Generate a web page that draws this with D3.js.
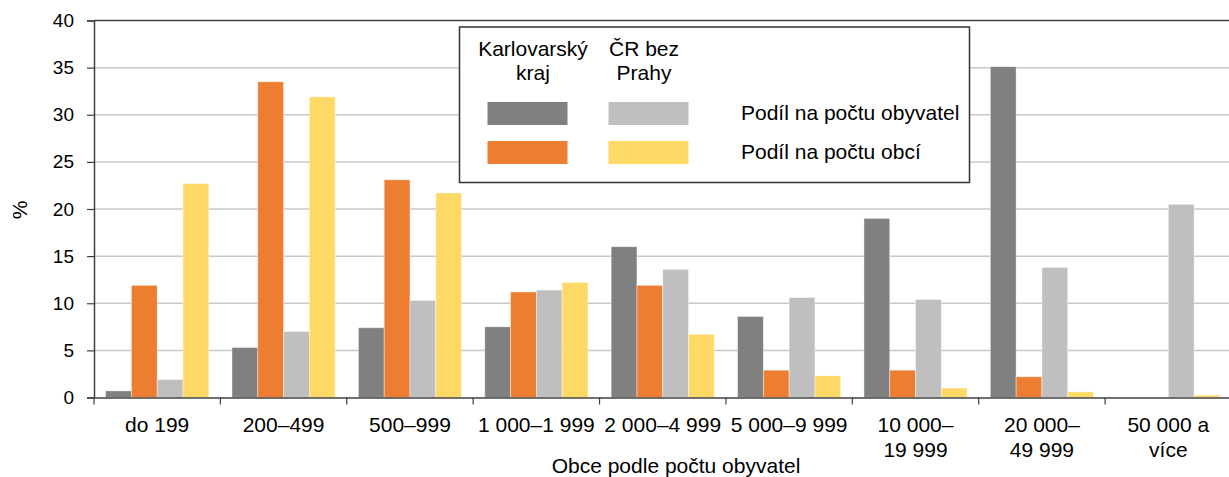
<!DOCTYPE html>
<html>
<head>
<meta charset="utf-8">
<script src="https://cdn.jsdelivr.net/npm/d3@7"></script>
<style>
  body { margin: 0; background: #fff; }
  text { font-family: "Liberation Sans", Arial, sans-serif; fill: #000; }
</style>
</head>
<body>
<svg id="chart" width="1229" height="477"></svg>
<script>
// kategorie obci podle velikosti
var categories = ["do 199", "200–499", "500–999", "1 000–1 999", "2 000–4 999",
                  "5 000–9 999", "10 000–\n19 999", "20 000–\n49 999", "50 000 a\nvíce"];

// hodnoty v %
var karlObyv = [0.7, 5.3, 7.4, 7.5, 16.0, 8.6, 19.0, 35.1, 0];
var karlObce = [11.9, 33.5, 23.1, 11.2, 11.9, 2.9, 2.9, 2.2, 0];
var crObyv   = [1.9, 7.0, 10.3, 11.4, 13.6, 10.6, 10.4, 13.8, 20.5];
var crObce   = [22.7, 31.9, 21.7, 12.2, 6.7, 2.3, 1.0, 0.6, 0.25];

var seriesKeys = ["karlObyv", "karlObce", "crObyv", "crObce"];
var colors = { karlObyv: "#808080", karlObce: "#ED7D31", crObyv: "#BFBFBF", crObce: "#FFD966" };
var yTicks = [0, 5, 10, 15, 20, 25, 30, 35, 40];

var svg = d3.select("#chart");

// pozor: "top" je v okne rezervovane, proto plot_*
var plot_left = 94, plot_right = 1231.5, plot_top = 20.5, plot_bottom = 397.5;
var font_size = "21px";

var x0 = d3.scaleBand().domain(categories).range([plot_left, plot_right]).paddingInner(0).paddingOuter(0);
var x1 = d3.scaleBand().domain(seriesKeys).range([0, x0.bandwidth()]).paddingInner(0).paddingOuter(0.45);
var y = d3.scaleLinear().domain([0, 40]).range([plot_bottom, plot_top]);

var rows = categories.map(function(c, i) {
    return { cat: c, karlObyv: karlObyv[i], karlObce: karlObce[i], crObyv: crObyv[i], crObce: crObce[i] };
});

// mrizka
svg.append("g")
    .selectAll("line")
    .data(yTicks.filter(function(d) { return d > 0 && d < 40; }))
    .enter().append("line")
    .attr("x1", plot_left).attr("x2", plot_right)
    .attr("y1", function(d) { return y(d); })
    .attr("y2", function(d) { return y(d); })
    .attr("stroke", "#c8c8c8")
    .attr("stroke-width", 1.5);

// horni okraj
svg.append("line")
    .attr("x1", plot_left).attr("x2", plot_right)
    .attr("y1", plot_top).attr("y2", plot_top)
    .attr("stroke", "#404040").attr("stroke-width", 1.5);

// sloupce
var groups = svg.append("g")
    .selectAll("g")
    .data(rows)
    .enter().append("g")
    .attr("transform", function(d) { return "translate(" + x0(d.cat) + ",0)"; });

groups.selectAll("rect")
    .data(function(d) { return seriesKeys.map(function(k) { return { key: k, value: d[k] }; }); })
    .enter().append("rect")
    .attr("x", function(d) { return x1(d.key); })
    .attr("width", x1.bandwidth())
    .attr("y", function(d) { return y(d.value); })
    .attr("height", function(d) { return y(0) - y(d.value); })
    .attr("fill", function(d) { return colors[d.key]; })
    .attr("stroke", "rgba(255,255,255,0.5)")
    .attr("stroke-width", 0.8);

// osa y
var yAxis = svg.append("g")
    .attr("transform", "translate(" + plot_left + ",0)")
    .call(d3.axisLeft(y).tickValues(yTicks).tickSize(7).tickPadding(13));
yAxis.select(".domain").attr("stroke", "#404040").attr("stroke-width", 1.5);
yAxis.selectAll(".tick line").attr("stroke", "#404040").attr("stroke-width", 1.2);
yAxis.selectAll(".tick text")
    .style("font-size", "19px")
    .style("font-family", "'Liberation Sans', Arial, sans-serif")
    .attr("fill", "#000");

// osa x
var xAxis = svg.append("g")
    .attr("transform", "translate(0," + plot_bottom + ")")
    .call(d3.axisBottom(x0).tickSize(0).tickFormat(""));
xAxis.select(".domain").attr("stroke", "#404040").attr("stroke-width", 1.5);

svg.append("g")
    .selectAll("line")
    .data(categories.map(function(c) { return x0(c); }).concat([plot_right]))
    .enter().append("line")
    .attr("x1", function(d) { return d; }).attr("x2", function(d) { return d; })
    .attr("y1", plot_bottom).attr("y2", plot_bottom + 7)
    .attr("stroke", "#404040").attr("stroke-width", 1.2);

var xLabels = svg.append("g")
    .selectAll("text")
    .data(categories)
    .enter().append("text")
    .attr("text-anchor", "middle")
    .attr("x", function(d) { return x0(d) + x0.bandwidth() / 2; })
    .attr("y", 432)
    .style("font-size", font_size);

xLabels.each(function(d) {
    var t = d3.select(this);
    d.split("\n").forEach(function(line, i) {
        t.append("tspan")
            .attr("x", x0(d) + x0.bandwidth() / 2)
            .attr("dy", i === 0 ? 0 : 25)
            .text(line);
    });
});

// popisky os
svg.append("text")
    .attr("text-anchor", "middle")
    .attr("x", 676).attr("y", 473)
    .style("font-size", font_size)
    .text("Obce podle počtu obyvatel");

svg.append("text")
    .attr("text-anchor", "middle")
    .attr("transform", "translate(27,210) rotate(-90)")
    .style("font-size", font_size)
    .text("%");

// legenda
var legend = svg.append("g");
legend.append("rect")
    .attr("x", 459.5).attr("y", 27)
    .attr("width", 510).attr("height", 155.5)
    .attr("fill", "#fff")
    .attr("stroke", "#333").attr("stroke-width", 1.5);

var heads = [["Karlovarský", "kraj", 533], ["ČR bez", "Prahy", 644]];
heads.forEach(function(h) {
    legend.append("text")
        .attr("text-anchor", "middle")
        .attr("x", h[2]).attr("y", 56)
        .style("font-size", font_size)
        .text(h[0]);
    legend.append("text")
        .attr("text-anchor", "middle")
        .attr("x", h[2]).attr("y", 80)
        .style("font-size", font_size)
        .text(h[1]);
});

var legendRows = [
    { keys: ["karlObyv", "crObyv"], label: "Podíl na počtu obyvatel", y: 102 },
    { keys: ["karlObce", "crObce"], label: "Podíl na počtu obcí", y: 141 }
];
legendRows.forEach(function(r) {
    legend.append("rect").attr("x", 487.5).attr("y", r.y).attr("width", 80).attr("height", 23)
        .attr("fill", colors[r.keys[0]]);
    legend.append("rect").attr("x", 608.5).attr("y", r.y).attr("width", 80).attr("height", 23)
        .attr("fill", colors[r.keys[1]]);
    legend.append("text")
        .attr("x", 741).attr("y", r.y + 18)
        .style("font-size", font_size)
        .text(r.label);
});
</script>
</body>
</html>
